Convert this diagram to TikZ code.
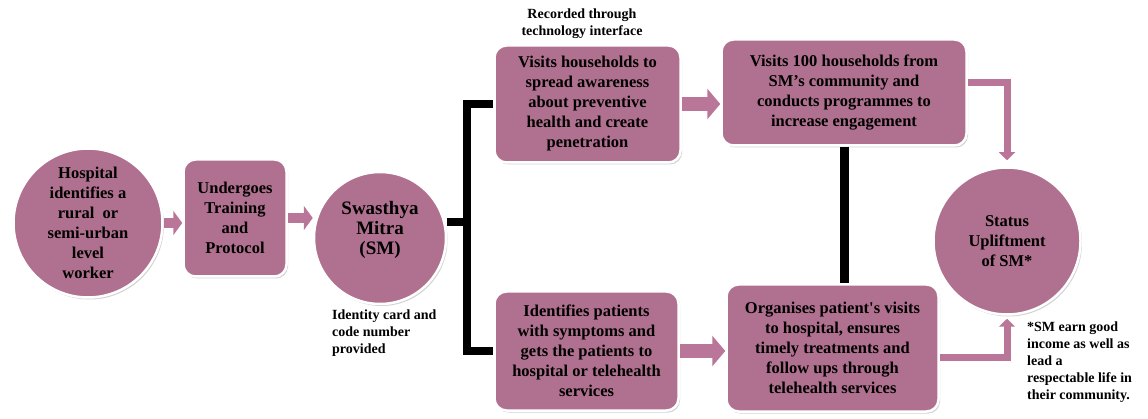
\documentclass[tikz,border=0pt]{standalone}
\usepackage{fontspec}
\setmainfont{Liberation Serif}
\usetikzlibrary{positioning,calc,arrows.meta,shadows}
\definecolor{mauve}{RGB}{176,112,143}
\definecolor{mauvearrow}{RGB}{186,118,152}

\begin{document}
\begin{tikzpicture}[x=1pt, y=-1pt,
    stage/.style={fill=mauve, draw=white, line width=2.5pt, align=center,
      font=\bfseries\fontsize{16.5}{20}\selectfont, inner sep=0pt,
      drop shadow={shadow xshift=1.5pt, shadow yshift=-2pt, opacity=0.35}},
    roundstage/.style={stage, circle},
    boxstage/.style={stage, rectangle, rounded corners=12pt},
    note/.style={align=left, font=\bfseries\fontsize{14}{17}\selectfont, inner sep=0pt},
    fatarrow/.style={draw=mauvearrow, line width=10pt, -{Triangle[width=24pt, length=9pt]}},
    bigarrow/.style={draw=mauvearrow, line width=14pt, -{Triangle[width=30pt, length=13pt]}},
    thinarrow/.style={draw=mauvearrow, line width=7pt, line join=miter, -{Triangle[width=16pt, length=8pt]}},
    bracket/.style={draw=black, line width=8pt, line join=miter}]
          \fill [white] (0, 0) rectangle (1148, 419);%
          \useasboundingbox (0, 0) rectangle (1148, 419);%
          % stages
          \node [roundstage, minimum size=149pt] (hospital) at (88, 223) {%
            Hospital\\identifies a\\rural~ or\\semi-urban\\level\\worker};%
          \node [boxstage, minimum width=103pt, minimum height=117pt] (training) at (235, 218) {%
            Undergoes\\Training\\and\\Protocol};%
          \node [roundstage, minimum size=132pt, font=\bfseries\fontsize{19}{20}\selectfont] (mitra) at (380, 238) {%
            Swasthya\\Mitra\\(SM)\\\mbox{}};%
          \node [boxstage, minimum width=186pt, minimum height=117pt] (awareness) at (587.5, 104) {%
            Visits households to\\spread awareness\\about preventive\\health and create\\penetration};%
          \node [boxstage, minimum width=245pt, minimum height=106pt] (engage) at (844, 92.5) {%
            Visits 100 households from\\SM’s community and\\conducts programmes to\\increase engagement};%
          \node [boxstage, minimum width=184pt, minimum height=119pt] (patients) at (586.5, 351) {%
            Identifies patients\\with symptoms and\\gets the patients to\\hospital or telehealth\\services};%
          \node [boxstage, minimum width=212pt, minimum height=127pt] (organise) at (832.5, 348) {%
            Organises patient\textquotesingle s visits\\to hospital, ensures\\timely treatments and\\follow ups through\\telehealth services};%
          \node [roundstage, minimum size=147pt] (uplift) at (1007, 241) {%
            Status\\Upliftment\\of SM*};%
          % notes
          \node [note, align=center] (recnote) at (582, 24) {Recorded through\\technology interface};%
          \node [note, anchor=west] (idnote) at (332, 333) {Identity card and\\code number\\provided};%
          \node [note, anchor=west] (starnote) at (1027, 362) {*SM earn good\\income as well as\\lead a\\respectable life in\\their community.};%
          % connectors
          \draw [fatarrow] (hospital.east) -- (hospital.east -| training.west);%
          \draw [fatarrow] (training.east) -- (training.east -| mitra.west);%
          \coordinate (split) at (467, 222);%
          \draw [bracket] (split -| mitra.east) -- (split);%
          \draw [bracket] (awareness.west) -| (split) |- (patients.west);%
          \draw [bigarrow] (awareness.east) -- (awareness.east -| engage.west);%
          \draw [bigarrow] (patients.east) -- (patients.east -| organise.west);%
          \draw [bracket, line width=9pt] (engage.south) -- (engage.south |- organise.north);%
          \draw [thinarrow, shorten >=6pt] ([yshift=10pt]engage.east) -| (uplift.north);%
          \draw [thinarrow, shorten >=3pt] ([yshift=-10pt]organise.east) -| (uplift.south);%
        \end{tikzpicture}
\end{document}
